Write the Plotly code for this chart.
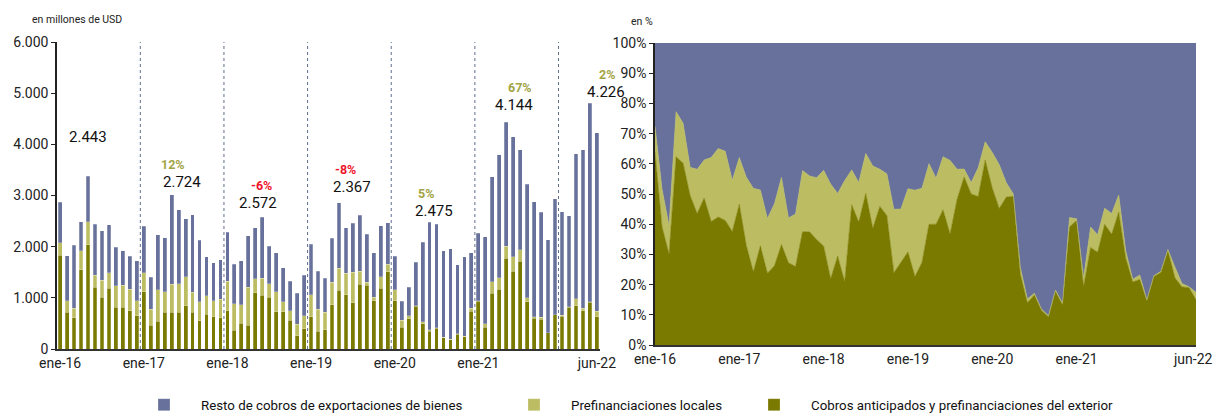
import plotly.graph_objects as go

# ---------------- DATA ----------------
month_abbr = ["ene", "feb", "mar", "abr", "may", "jun", "jul", "ago", "sep", "oct", "nov", "dic"]
years = ["16", "17", "18", "19", "20", "21", "22"]
categories = [f"{m}-{y}" for y in years for m in month_abbr][:78]

# Cobros anticipados y prefinanciaciones del exterior (millones USD)
cobros_exterior = [
    1833, 715, 611, 1547, 2035, 1209, 1008, 1183, 813, 813, 748, 650,
    1118, 462, 540, 715, 715, 715, 845, 715, 553, 676, 631, 611,
    748, 364, 507, 462, 1099, 1047, 1008, 728, 728, 566, 260, 397,
    631, 345, 377, 865, 1144, 1060, 904, 1261, 1248, 943, 1183, 1508,
    943, 423, 592, 835, 489, 346, 404, 222, 183, 293, 241, 737,
    932, 424, 1089, 1167, 1773, 1519, 1715, 926, 600, 580, 313, 665,
    645, 815, 848, 750, 913, 632,
]
# Prefinanciaciones locales
prefin_locales = [
    247, 228, 189, 371, 448, 228, 338, 306, 422, 435, 416, 293,
    371, 318, 617, 403, 546, 559, 566, 390, 370, 364, 312, 358,
    572, 520, 358, 741, 273, 338, 266, 390, 195, 182, 228, 253,
    429, 435, 338, 435, 436, 416, 598, 260, 59, 71, 228, 150,
    214, 136, 58, 13, 46, 32, 13, 8, 7, 7, 9, 58,
    13, 65, 228, 222, 235, 287, 221, 78, 26, 39, 7, 7,
    10, 10, 137, 45, 13, 105,
]
# Resto de cobros de exportaciones de bienes
resto_cobros = [
    793, 884, 1228, 565, 897, 1006, 968, 942, 754, 670, 650, 786,
    910, 624, 1073, 1060, 1749, 1450, 1131, 1521, 1203, 761, 741, 780,
    962, 774, 858, 1007, 994, 1187, 735, 767, 663, 572, 598, 793,
    988, 741, 663, 865, 1280, 891, 955, 1092, 936, 871, 994, 806,
    657, 377, 559, 847, 1551, 2097, 2021, 1693, 1772, 1350, 1556, 1089,
    1317, 1708, 2054, 2412, 2426, 2338, 1963, 2217, 2249, 2054, 1812, 2262,
    2031, 1783, 2829, 3104, 3879, 3489,
]

series_names = [
    "Resto de cobros de exportaciones de bienes",
    "Prefinanciaciones locales",
    "Cobros anticipados y prefinanciaciones del exterior",
]
x_tick_labels = ["ene-16", "ene-17", "ene-18", "ene-19", "ene-20", "ene-21", "jun-22"]
y_ticks_left = [0, 1000, 2000, 3000, 4000, 5000, 6000]
y_ticks_right = [0, 10, 20, 30, 40, 50, 60, 70, 80, 90, 100]

# ---------------- STYLE / LAYOUT ----------------
W, H = 1216, 414


def px_x(x):
    return x / W


def px_y(y):
    return 1 - y / H


C_RESTO = "#67719c"
C_LOCAL = "#bcbd62"
C_EXT = "#7a7a00"
C_POS = "#a3a445"
C_NEG = "#f0142a"
TICK_FONT = dict(family="Roboto", size=14, color="#222222")
label_yshift = [28, 2, 3, 5, 0, 6, 0]        # pixel offsets of yearly value labels
label_xshift = [-7, 3, -4, 6, 4, 1, 9]
pct_xshift = [0, -6, -1, 0, -4, 7, 10]

fig = go.Figure()

# Left: stacked bars
for name, vals, col, lg in [
    (series_names[2], cobros_exterior, C_EXT, "legend3"),
    (series_names[1], prefin_locales, C_LOCAL, "legend2"),
    (series_names[0], resto_cobros, C_RESTO, "legend"),
]:
    fig.add_trace(go.Bar(
        x=categories, y=vals, name=name, marker_color=col,
        marker_line_width=0.4, marker_line_color="rgba(255,255,255,0.6)",
        xaxis="x", yaxis="y", legend=lg, showlegend=True,
    ))

# Right: 100% stacked areas
idx = list(range(len(categories)))
for name, vals, col in [
    (series_names[2], cobros_exterior, C_EXT),
    (series_names[1], prefin_locales, C_LOCAL),
    (series_names[0], resto_cobros, C_RESTO),
]:
    fig.add_trace(go.Scatter(
        x=idx, y=vals, name=name, mode="lines", stackgroup="one",
        groupnorm="percent", line=dict(width=0.6, color=col), fillcolor=col,
        xaxis="x2", yaxis="y2", showlegend=False, hoverinfo="skip",
    ))

# Year separators (between dic and ene) on the left chart
shapes = []
for i, c in enumerate(categories):
    if c.startswith("ene") and i > 0:
        shapes.append(dict(type="line", xref="x", yref="y domain",
                           x0=i - 0.5, x1=i - 0.5, y0=0, y1=1,
                           line=dict(color="#5f6d8c", width=1, dash="dot"), layer="below"))

# Yearly June labels with YoY change
totals = [a + b + c for a, b, c in zip(cobros_exterior, prefin_locales, resto_cobros)]
annotations = []
prev = None
for k, y in enumerate(years):
    jun_i = categories.index(f"jun-{y}")
    jan_i = categories.index(f"ene-{y}")
    v = totals[jun_i]
    ymax = max(totals[jan_i:jun_i + 1])
    annotations.append(dict(
        x=categories[jun_i], y=ymax, xref="x", yref="y", yanchor="bottom",
        text=f"{v:,}".replace(",", "."), showarrow=False,
        yshift=label_yshift[k], xshift=label_xshift[k],
        font=dict(family="Roboto", size=15, color="#111111"),
    ))
    if prev is not None:
        pct = round((v / prev - 1) * 100)
        annotations.append(dict(
            x=categories[jun_i], y=ymax, xref="x", yref="y", yanchor="bottom",
            text=f"<b>{pct}%</b>", showarrow=False, yshift=label_yshift[k] + 19,
            xshift=pct_xshift[k],
            font=dict(family="Roboto", size=12.5, color=C_POS if pct >= 0 else C_NEG),
        ))
    prev = v

right_ticks = [categories.index(t) for t in x_tick_labels]
annotations += [
    dict(x=px_x(30), y=px_y(20), xref="paper", yref="paper", xanchor="left",
         yanchor="middle", text="en millones de USD", showarrow=False,
         font=dict(family="Roboto", size=10.5, color="#222222")),
    dict(x=px_x(629), y=px_y(21), xref="paper", yref="paper", xanchor="left",
         yanchor="middle", text="en %", showarrow=False,
         font=dict(family="Roboto", size=10.5, color="#222222")),
    # last tick label of the right chart, kept inside the page edge
    dict(x=right_ticks[-1], y=0, xref="x2", yref="y2", xanchor="right",
         yanchor="top", xshift=19, yshift=-4, text=x_tick_labels[-1], showarrow=False,
         font=TICK_FONT),
]

left_ticks = [categories.index(t) for t in x_tick_labels]
legend_common = dict(orientation="h", yanchor="middle", y=px_y(405), xanchor="left",
                     font=dict(family="Roboto", size=13.3, color="#111111"),
                     bgcolor="rgba(0,0,0,0)", itemwidth=64)

fig.update_layout(
    width=W, height=H,
    margin=dict(l=0, r=0, t=0, b=0, autoexpand=False),
    paper_bgcolor="white", plot_bgcolor="white",
    barmode="stack", bargap=0.45,
    xaxis=dict(domain=[px_x(57), px_x(600)], type="category",
               range=[-0.45, len(categories) - 0.55],
               tickmode="array", tickvals=[categories[i] for i in left_ticks],
               ticktext=x_tick_labels, ticks="", showgrid=False,
               showline=True, linecolor="#333333", linewidth=1.5,
               tickfont=TICK_FONT, anchor="y", automargin=False),
    yaxis=dict(domain=[px_y(349), px_y(42)], range=[0, 6000],
               tickmode="array", tickvals=y_ticks_left,
               ticktext=[f"{v:,}".replace(",", ".") for v in y_ticks_left],
               ticks="outside", ticklen=4,
               tickcolor="#222222", showgrid=False, zeroline=False,
               showline=True, linecolor="#222222", linewidth=1.5,
               tickfont=TICK_FONT, anchor="x", automargin=False),
    xaxis2=dict(domain=[px_x(655), px_x(1196)], range=[0, len(categories) - 1],
                tickmode="array", tickvals=right_ticks[:-1], ticktext=x_tick_labels[:-1],
                ticks="", showgrid=False, showline=True, linecolor="#333333",
                linewidth=1.5, tickfont=TICK_FONT, anchor="y2", zeroline=False,
                automargin=False),
    yaxis2=dict(domain=[px_y(345), px_y(43)], range=[0, 100],
                tickmode="array", tickvals=y_ticks_right,
                ticktext=[f"{v}%" for v in y_ticks_right],
                ticks="outside", ticklen=4,
                tickcolor="#222222", showgrid=False, zeroline=False,
                showline=True, linecolor="#222222", linewidth=1.5,
                tickfont=TICK_FONT, anchor="x2", automargin=False),
    legend=dict(legend_common, x=px_x(127)),
    legend2=dict(legend_common, x=px_x(497)),
    legend3=dict(legend_common, x=px_x(737)),
    shapes=shapes,
    annotations=annotations,
)

fig.write_html(
    "out.html",
    config={"displayModeBar": False},
    post_script="document.body.style.margin='0';document.body.style.overflow='hidden';",
)
